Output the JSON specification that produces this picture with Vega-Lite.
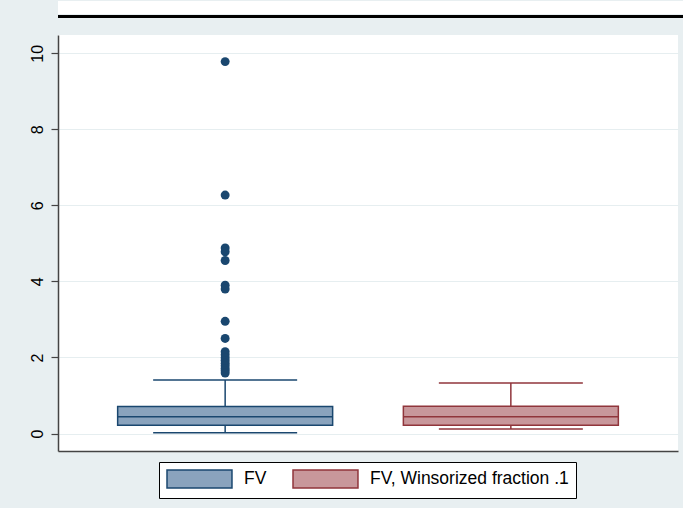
{
  "$schema": "https://vega.github.io/schema/vega-lite/v6.json",
  "background": "#e8eff1",
  "padding": {"left": 7, "top": 0, "right": 0, "bottom": 12},
  "datasets": {
    "boxes": [
      {"series": "FV", "lower": 0.02, "q1": 0.22, "median": 0.44, "q3": 0.71, "upper": 1.41},
      {"series": "FV, Winsorized fraction .1", "lower": 0.12, "q1": 0.22, "median": 0.44, "q3": 0.72, "upper": 1.33}
    ],
    "outliers": [
      {"series": "FV", "value": 9.78},
      {"series": "FV", "value": 6.27},
      {"series": "FV", "value": 4.88},
      {"series": "FV", "value": 4.78},
      {"series": "FV", "value": 4.55},
      {"series": "FV", "value": 3.9},
      {"series": "FV", "value": 3.8},
      {"series": "FV", "value": 2.95},
      {"series": "FV", "value": 2.5},
      {"series": "FV", "value": 2.15},
      {"series": "FV", "value": 2.07},
      {"series": "FV", "value": 1.99},
      {"series": "FV", "value": 1.92},
      {"series": "FV", "value": 1.85},
      {"series": "FV", "value": 1.78},
      {"series": "FV", "value": 1.71},
      {"series": "FV", "value": 1.65},
      {"series": "FV", "value": 1.59}
    ],
    "blank": [{}]
  },
  "align": "none",
  "vconcat": [
    {
      "vconcat": [
        {"width": 669, "height": 13, "data": {"name": "blank"}, "view": {"fill": "white", "stroke": null}, "mark": {"type": "rule", "opacity": 0}, "encoding": {}},
        {"width": 669, "height": 3, "data": {"name": "blank"}, "view": {"fill": "black", "stroke": null}, "mark": {"type": "rule", "opacity": 0}, "encoding": {}}
      ],
      "spacing": 0
    },
    {
      "width": 620,
      "height": 416,
      "view": {"fill": "white", "stroke": null},
      "encoding": {
        "x": {
          "field": "series", "type": "nominal",
          "scale": {"type": "band", "domain": ["FV", "FV, Winsorized fraction .1"], "paddingInner": 0.2475, "paddingOuter": 0.2088},
          "axis": {"title": null, "labels": false, "ticks": false, "grid": false, "domain": true, "domainColor": "#444", "domainWidth": 1.5}
        }
      },
      "layer": [
        {
          "data": {"name": "boxes"},
          "mark": {"type": "rule", "strokeWidth": 1.5},
          "encoding": {
            "y": {
              "field": "lower", "type": "quantitative",
              "scale": {"domain": [-0.46, 10.48], "nice": false, "zero": false},
              "axis": {"title": null, "values": [0, 2, 4, 6, 8, 10], "labelAngle": -90, "labelFont": "Liberation Sans", "labelFontSize": 16, "labelColor": "black", "labelPadding": 6, "tickSize": 7, "tickColor": "#444", "tickWidth": 1.2, "domainColor": "#444", "domainWidth": 1.5, "grid": true, "gridColor": "#e6eef0", "gridWidth": 1.2, "minExtent": 51}
            },
            "y2": {"field": "upper"},
            "stroke": {"field": "series", "type": "nominal", "scale": {"domain": ["FV", "FV, Winsorized fraction .1"], "range": ["#1a476f", "#90353b"]}, "legend": {"title": null}}
          }
        },
        {
          "data": {"name": "boxes"},
          "mark": {"type": "bar", "strokeWidth": 1.5},
          "encoding": {
            "y": {"field": "q1", "type": "quantitative"},
            "y2": {"field": "q3"},
            "fill": {"field": "series", "type": "nominal", "scale": {"domain": ["FV", "FV, Winsorized fraction .1"], "range": ["#8aa3bd", "#c8979b"]}, "legend": {"title": null}},
            "stroke": {"field": "series", "type": "nominal", "legend": {"title": null}}
          }
        },
        {
          "data": {"name": "boxes"},
          "mark": {"type": "tick", "size": 215, "thickness": 1.5, "opacity": 1},
          "encoding": {
            "y": {"field": "median", "type": "quantitative"},
            "color": {"field": "series", "type": "nominal", "scale": {"domain": ["FV", "FV, Winsorized fraction .1"], "range": ["#1a476f", "#90353b"]}, "legend": null}
          }
        },
        {
          "data": {"name": "boxes"},
          "mark": {"type": "tick", "size": 144, "thickness": 1.5, "opacity": 1},
          "encoding": {
            "y": {"field": "lower", "type": "quantitative"},
            "color": {"field": "series", "type": "nominal", "legend": null}
          }
        },
        {
          "data": {"name": "boxes"},
          "mark": {"type": "tick", "size": 144, "thickness": 1.5, "opacity": 1},
          "encoding": {
            "y": {"field": "upper", "type": "quantitative"},
            "color": {"field": "series", "type": "nominal", "legend": null}
          }
        },
        {
          "data": {"name": "outliers"},
          "mark": {"type": "point", "filled": true, "size": 80, "opacity": 1, "color": "#1a476f"},
          "encoding": {
            "y": {"field": "value", "type": "quantitative"}
          }
        }
      ]
    }
  ],
  "spacing": 17,
  "config": {
    "legend": {
      "orient": "bottom",
      "direction": "horizontal",
      "layout": {"bottom": {"anchor": "middle", "bounds": "flush"}},
      "strokeColor": "black",
      "strokeWidth": 1,
      "fillColor": "white",
      "padding": 7,
      "offset": 11,
      "symbolType": "M-1,-1L6.22,-1L6.22,1L-1,1Z",
      "symbolSize": 324,
      "symbolStrokeWidth": 1.5,
      "symbolOpacity": 1,
      "labelFont": "Liberation Sans",
      "labelFontSize": 17.5,
      "labelColor": "black",
      "labelOffset": 58,
      "columnPadding": 23,
      "labelLimit": 400
    }
  }
}
